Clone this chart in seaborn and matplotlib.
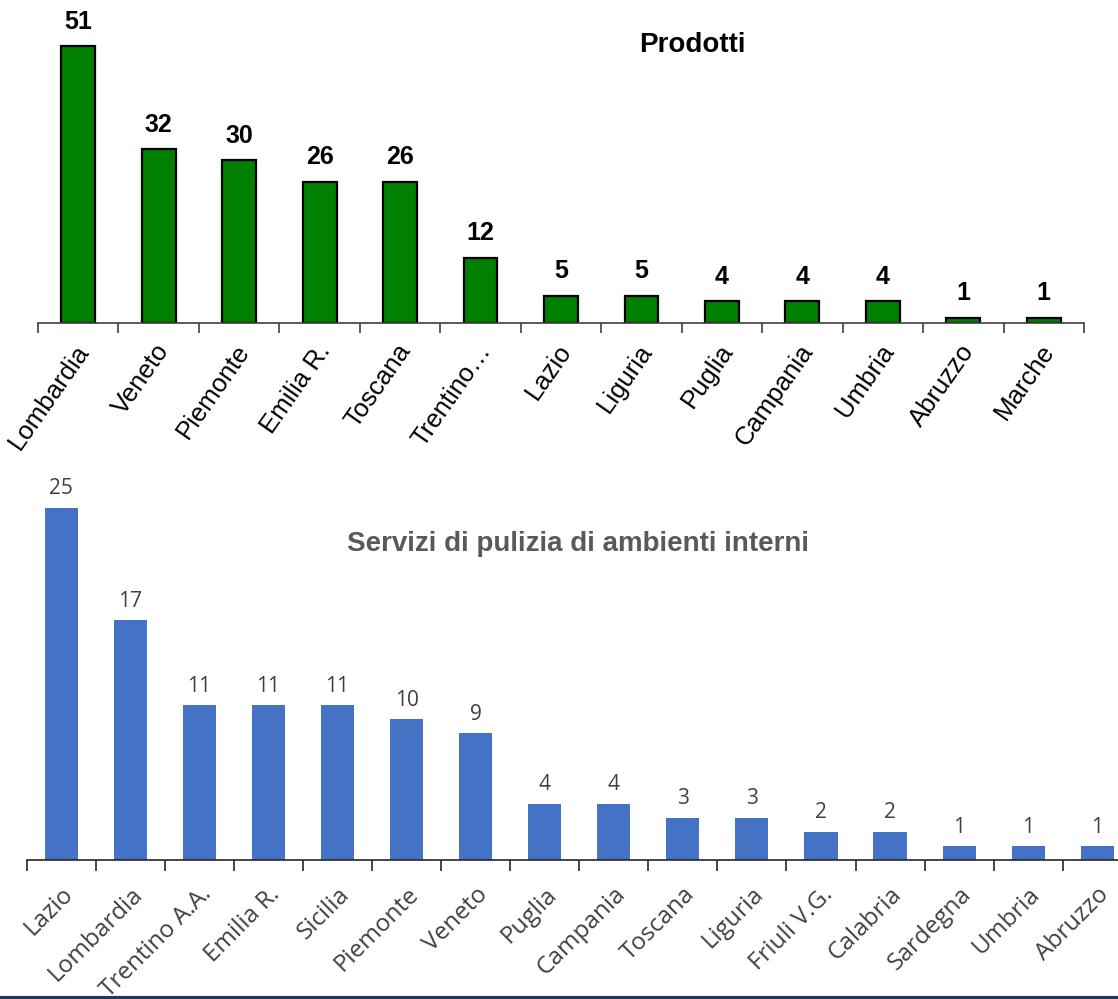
import matplotlib.pyplot as plt
import seaborn as sns
import pandas as pd
from matplotlib.lines import Line2D
from matplotlib.transforms import ScaledTranslation

# Top chart: Prodotti
prod_regions = ['Lombardia', 'Veneto', 'Piemonte', 'Emilia R.', 'Toscana', 'Trentino…',
                'Lazio', 'Liguria', 'Puglia', 'Campania', 'Umbria', 'Abruzzo', 'Marche']
prod_values = [51, 32, 30, 26, 26, 12, 5, 5, 4, 4, 4, 1, 1]

# Bottom chart: Servizi di pulizia di ambienti interni
serv_regions = ['Lazio', 'Lombardia', 'Trentino A.A.', 'Emilia R.', 'Sicilia', 'Piemonte',
                'Veneto', 'Puglia', 'Campania', 'Toscana', 'Liguria', 'Friuli V.G.',
                'Calabria', 'Sardegna', 'Umbria', 'Abruzzo']
serv_values = [25, 17, 11, 11, 11, 10, 9, 4, 4, 3, 3, 2, 2, 1, 1, 1]

sns.set_style('white')
W, H = 1118, 999
fig = plt.figure(figsize=(W / 100, H / 100), dpi=100)


def place(x0, y_base, x1, y_top):
    """pixel box -> figure coords"""
    return [x0 / W, 1 - y_base / H, (x1 - x0) / W, (y_base - y_top) / H]


def shift_labels(ax, dx_px, dy_px):
    off = ScaledTranslation(dx_px / 100, dy_px / 100, fig.dpi_scale_trans)
    for lab in ax.get_xticklabels():
        lab.set_transform(lab.get_transform() + off)


# ---------------- top chart ----------------
ax1 = fig.add_axes(place(38, 323, 1084, 0))
df1 = pd.DataFrame({'region': prod_regions, 'n': prod_values})
sns.barplot(data=df1, x='region', y='n', color='#008000', edgecolor='black',
            linewidth=1.6, width=0.42, saturation=1, ax=ax1)
ax1.set_xlim(-0.5, len(prod_regions) - 0.5)
ax1.set_ylim(0, 59.5)
for s in ['top', 'right', 'left']:
    ax1.spines[s].set_visible(False)
ax1.spines['bottom'].set_color('#404040')
ax1.spines['bottom'].set_linewidth(1.2)
ax1.set_yticks([])
ax1.set_xlabel('')
ax1.set_ylabel('')
ax1.set_xticks(range(len(prod_regions)))
ax1.set_xticklabels(prod_regions, rotation=55, ha='right', rotation_mode='anchor',
                    fontsize=18.5, family='Liberation Sans', color='black')
ax1.set_xticks([i - 0.5 for i in range(len(prod_regions) + 1)], minor=True)
ax1.tick_params(axis='x', which='major', length=0, pad=12)
ax1.tick_params(axis='x', which='minor', bottom=True, length=7, width=1.2,
                color='#404040', direction='out')
shift_labels(ax1, -4, 0)
ax1.bar_label(ax1.containers[0], padding=9, fontsize=18, fontweight='bold',
              family='Liberation Sans', color='black')
ax1.text(0.626, 0.862, 'Prodotti', transform=ax1.transAxes, ha='center', va='center',
         fontsize=20, fontweight='bold', family='Liberation Sans', color='black')

# ---------------- bottom chart ----------------
ax2 = fig.add_axes(place(26.6, 860, 1118, 470))
df2 = pd.DataFrame({'region': serv_regions, 'n': serv_values})
sns.barplot(data=df2, x='region', y='n', color='#4472C4', width=0.48,
            saturation=1, linewidth=0, ax=ax2)
ax2.set_xlim(-0.5, 15.3)
ax2.set_ylim(0, 27.66)
for s in ['top', 'right', 'left']:
    ax2.spines[s].set_visible(False)
ax2.spines['bottom'].set_color('#262626')
ax2.spines['bottom'].set_linewidth(1.2)
ax2.set_yticks([])
ax2.set_xlabel('')
ax2.set_ylabel('')
ax2.set_xticks(range(len(serv_regions)))
ax2.set_xticklabels(serv_regions, rotation=45, ha='right', rotation_mode='anchor',
                    fontsize=17.5, family='Open Sans', color='#404040')
ax2.set_xticks([i - 0.5 for i in range(len(serv_regions))], minor=True)
ax2.tick_params(axis='x', which='major', length=0, pad=16)
ax2.tick_params(axis='x', which='minor', bottom=True, length=8, width=1.2,
                color='#262626', direction='out')
shift_labels(ax2, 0, 0)
ax2.bar_label(ax2.containers[0], padding=6, fontsize=15, family='Open Sans', color='#404040')
ax2.text(0.505, 0.81, 'Servizi di pulizia di ambienti interni', transform=ax2.transAxes,
         ha='center', va='center', fontsize=20, fontweight='bold',
         family='Liberation Sans', color='#595959')

# dark rule along the bottom edge
fig.add_artist(Line2D([0, 1], [1.5 / H, 1.5 / H], transform=fig.transFigure,
                      color='#1F3864', linewidth=3))

fig.savefig('out.png', dpi=100)
